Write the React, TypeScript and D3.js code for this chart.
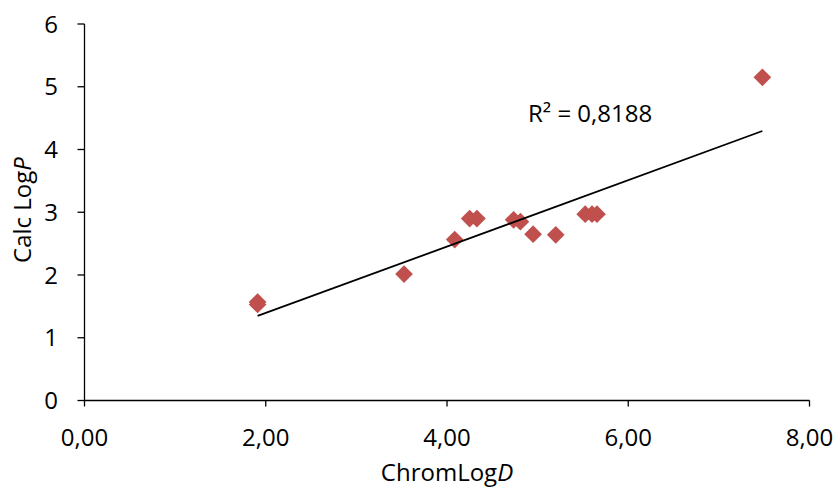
import React from "react";
import * as d3 from "d3";

const chromLogD = [1.91, 1.91, 3.526, 4.085, 4.25, 4.33, 4.735, 4.81, 4.95, 5.2, 5.525, 5.6, 5.655, 7.48];
const calcLogP = [1.57, 1.53, 2.015, 2.565, 2.9, 2.9, 2.88, 2.85, 2.65, 2.64, 2.97, 2.97, 2.97, 5.15];
const xTicks = [0, 2, 4, 6, 8];
const yTicks = [0, 1, 2, 3, 4, 5, 6];
const r2Label = "R² = 0,8188";

export default function App() {
  const W = 833, H = 487;
  const x = d3.scaleLinear().domain([0, 8]).range([84.5, 809.5]);
  const y = d3.scaleLinear().domain([0, 6]).range([400.5, 24]);
  const n = chromLogD.length;
  const mx = d3.mean(chromLogD)!;
  const my = d3.mean(calcLogP)!;
  let sxy = 0, sxx = 0;
  for (let i = 0; i < n; i++) {
    sxy += (chromLogD[i] - mx) * (calcLogP[i] - my);
    sxx += (chromLogD[i] - mx) ** 2;
  }
  const slope = sxy / sxx;
  const icpt = my - slope * mx;
  const [x0, x1] = d3.extent(chromLogD) as [number, number];
  const line = d3.line<number>().x((d) => x(d)).y((d) => y(icpt + slope * d));
  const diamond = d3.symbol().type(d3.symbolDiamond2).size(200)();
  const font = "'Open Sans', sans-serif";
  return (
    <svg width={W} height={H} style={{ position: "absolute", left: 0, top: 0, background: "#fff" }} fontFamily={font}>
      <line x1={x(0)} x2={x(8)} y1={y(0)} y2={y(0)} stroke="#000" strokeWidth={1.3} />
      <line x1={x(0)} x2={x(0)} y1={y(0)} y2={y(6)} stroke="#000" strokeWidth={1.3} />
      {xTicks.map((t) => (
        <g key={"x" + t}>
          <line x1={x(t)} x2={x(t)} y1={y(0)} y2={y(0) + 6} stroke="#000" strokeWidth={1.3} />
          <text x={x(t)} y={446} fontSize={24} textAnchor="middle" fill="#000">
            {d3.format(".2f")(t).replace(".", ",")}
          </text>
        </g>
      ))}
      {yTicks.map((t) => (
        <g key={"y" + t}>
          <line x1={x(0) - 7} x2={x(0)} y1={y(t)} y2={y(t)} stroke="#000" strokeWidth={1.3} />
          <text x={58} y={y(t)} dy="0.36em" fontSize={24} textAnchor="end" fill="#000">
            {t}
          </text>
        </g>
      ))}
      <text x={447} y={481} fontSize={24} textAnchor="middle" fill="#000">
        ChromLog<tspan fontStyle="italic">D</tspan>
      </text>
      <text transform="translate(31,210) rotate(-90)" fontSize={24} textAnchor="middle" fill="#000">
        Calc Log<tspan fontStyle="italic">P</tspan>
      </text>
      {chromLogD.map((d, i) => (
        <path key={i} d={diamond!} transform={`translate(${x(d)},${y(calcLogP[i])})`} fill="#C0504D" />
      ))}
      <path d={line([x0, x1])!} stroke="#000" strokeWidth={1.8} fill="none" />
      <text x={528} y={122} fontSize={24} fill="#000">{r2Label}</text>
    </svg>
  );
}
